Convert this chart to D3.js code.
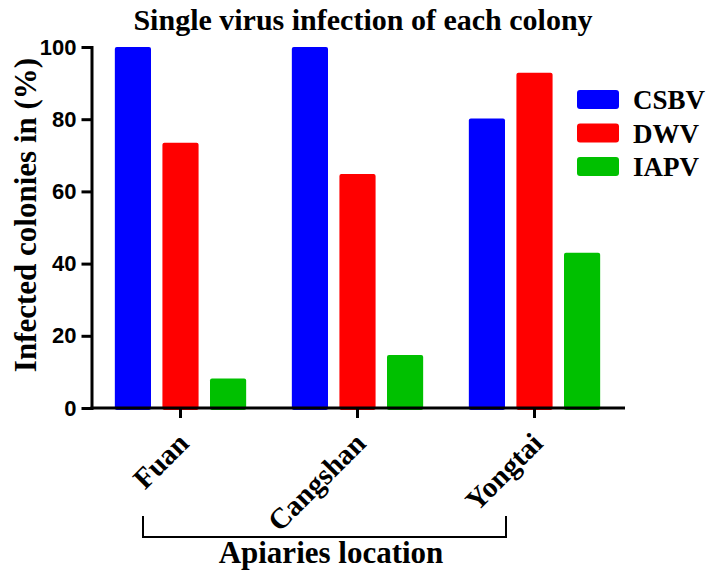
<!DOCTYPE html>
<html>
<head>
<meta charset="utf-8">
<script src="https://cdn.jsdelivr.net/npm/d3@7"></script>
<style>
  html, body { margin: 0; padding: 0; background: #fff; }
  svg { display: block; }
</style>
</head>
<body>
<svg id="chart" width="709" height="572"></svg>
<script>
const categories = ["Fuan", "Cangshan", "Yongtai"];
const seriesNames = ["CSBV", "DWV", "IAPV"];
const CSBV = [100, 100, 80.2];
const DWV = [73.5, 64.8, 92.9];
const IAPV = [8.2, 14.7, 43.0];
const yTicks = [0, 20, 40, 60, 80, 100];
const seriesValues = { CSBV, DWV, IAPV };
const colors = { CSBV: "#0000ff", DWV: "#ff0000", IAPV: "#00c000" };

const serif = "'Liberation Serif', 'Times New Roman', serif";
const sans = "'Liberation Sans', Arial, sans-serif";

const svg = d3.select("#chart");

const x = d3.scaleBand().domain(categories).range([92, 623]).paddingInner(0).paddingOuter(0);
const xi = d3.scaleBand().domain(seriesNames).range([0, x.bandwidth()]).paddingInner(0.24).paddingOuter(0.48);
const y = d3.scaleLinear().domain([0, 100]).range([408, 47]);

// bars
const data = [];
categories.forEach((c, i) => seriesNames.forEach(s => data.push({ c, s, v: seriesValues[s][i] })));
svg.append("g").selectAll("rect").data(data).join("rect")
  .attr("x", d => x(d.c) + xi(d.s))
  .attr("y", d => y(d.v))
  .attr("width", xi.bandwidth())
  .attr("height", d => y(0) - y(d.v) + 2)
  .attr("rx", 2)
  .attr("fill", d => colors[d.s]);

// y axis
const yAxis = svg.append("g").attr("transform", "translate(91.5,0)")
  .call(d3.axisLeft(y).tickValues(yTicks).tickSize(10).tickSizeOuter(0).tickPadding(5));
yAxis.select(".domain").attr("stroke", "#000").attr("stroke-width", 3).attr("stroke-linecap", "square");
yAxis.selectAll(".tick line").attr("stroke", "#000").attr("stroke-width", 3);
yAxis.selectAll(".tick text").attr("font-family", sans).attr("font-weight", "bold")
  .attr("font-size", 22).attr("fill", "#000");

// x axis
const xAxis = svg.append("g").attr("transform", "translate(0,408)")
  .call(d3.axisBottom(x).tickSize(10).tickSizeOuter(0).tickFormat(""));
xAxis.select(".domain").remove();
xAxis.append("line").attr("x1", x.range()[0] - 1.5).attr("x2", x.range()[1] + 2)
  .attr("y1", 0).attr("y2", 0).attr("stroke", "#000").attr("stroke-width", 3);
xAxis.selectAll(".tick line").attr("stroke", "#000").attr("stroke-width", 3);

// x labels rotated
svg.append("g").selectAll("text").data(categories).join("text")
  .attr("transform", d => `translate(${x(d) + x.bandwidth() / 2 + 10},445) rotate(-45)`)
  .attr("text-anchor", "end")
  .attr("font-family", serif).attr("font-weight", "bold").attr("font-size", 29)
  .text(d => d);

// bracket
const bx0 = 143, bx1 = 506;
svg.append("path")
  .attr("d", `M${bx0},516 V537 H${bx1} V516`)
  .attr("fill", "none").attr("stroke", "#000").attr("stroke-width", 2);

svg.append("text").attr("x", 331).attr("y", 563)
  .attr("text-anchor", "middle").attr("font-family", serif).attr("font-weight", "bold")
  .attr("font-size", 31).text("Apiaries location");

// title
svg.append("text").attr("x", 363).attr("y", 30)
  .attr("text-anchor", "middle").attr("font-family", serif).attr("font-weight", "bold")
  .attr("font-size", 30).text("Single virus infection of each colony");

// y label
svg.append("text").attr("transform", "translate(36,215) rotate(-90)")
  .attr("text-anchor", "middle").attr("font-family", serif).attr("font-weight", "bold")
  .attr("font-size", 31).text("Infected colonies in (%)");

// legend
const lg = svg.append("g").selectAll("g").data(seriesNames).join("g")
  .attr("transform", (d, i) => `translate(577,${90 + i * 33.5})`);
lg.append("rect").attr("width", 42).attr("height", 19).attr("rx", 3)
  .attr("fill", d => colors[d]);
lg.append("text").attr("x", 56).attr("y", 19)
  .attr("font-family", serif).attr("font-weight", "bold").attr("font-size", 27)
  .text(d => d);
</script>
</body>
</html>
